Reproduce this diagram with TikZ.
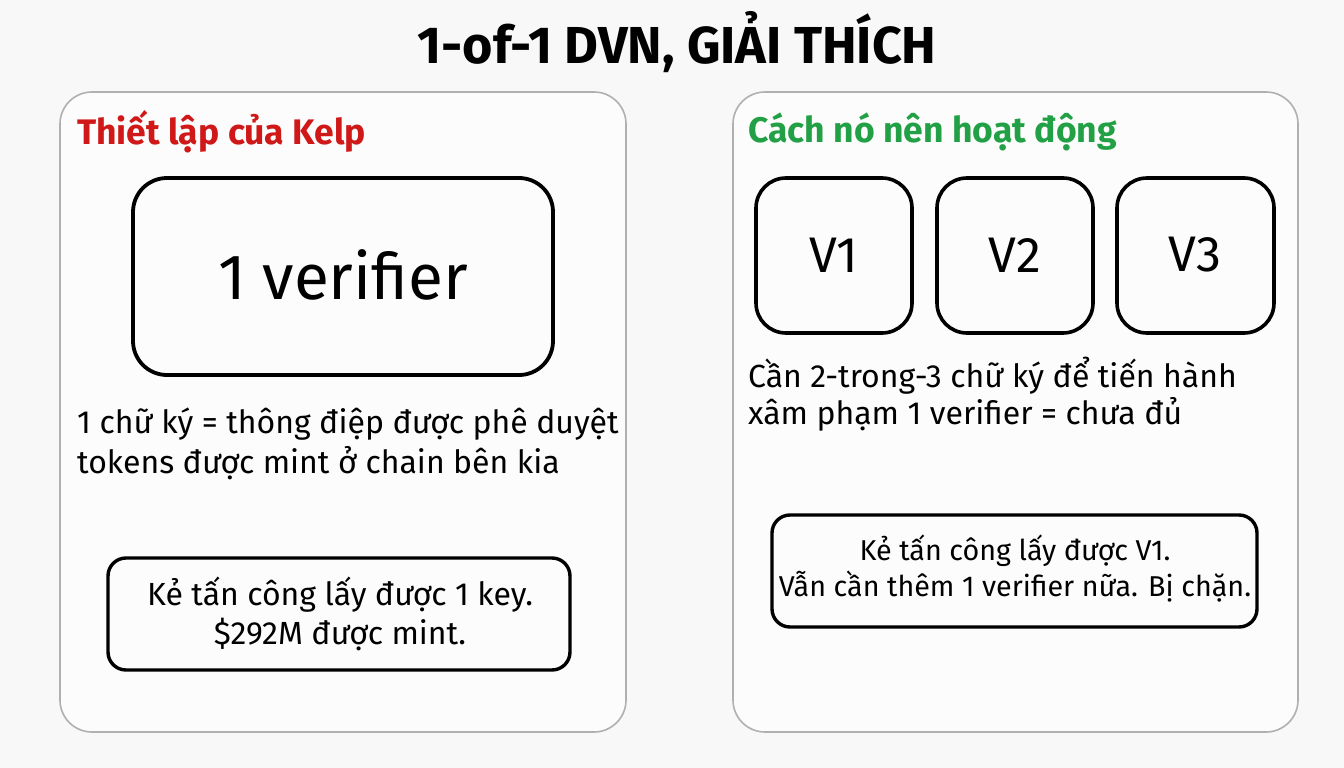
\documentclass[tikz,border=0pt]{standalone}
\usepackage{fontspec}
\setmainfont{Fira Sans}
\definecolor{bgc}{HTML}{F8F8F8}
\definecolor{redt}{HTML}{D01818}
\definecolor{greent}{HTML}{22A045}
\definecolor{panelc}{HTML}{B0B0B0}
\begin{document}
\begin{tikzpicture}[x=1pt,y=-1pt,
  panel/.style={draw=panelc,line width=1.6pt,rounded corners=32pt,fill=white!60!bgc},
  bigbox/.style={draw=black,line width=3.8pt,rounded corners=34pt},
  vbox/.style={draw=black,line width=3.6pt,rounded corners=30pt},
  msgbox/.style={draw=black,line width=3.4pt,rounded corners=18pt},
  txt/.style={anchor=west,inner sep=0pt,font=\fontsize{32}{38}\selectfont},
  hd/.style={anchor=west,inner sep=0pt,font=\fontsize{35.5}{40}\selectfont\bfseries}]
\fill[bgc] (0,0) rectangle (1344,768);
\useasboundingbox (0,0) rectangle (1344,768);
% title
\node[inner sep=0pt,font=\fontsize{52}{58}\selectfont\bfseries] (title) at (677,42) {1-of-1 DVN, GIẢI THÍCH};
% panels
\draw[panel] (60,92) rectangle (626,732);
\draw[panel] (733,92) rectangle (1298,732);
% left panel
\node[hd,text=redt] (lt) at (77,132) {Thiết lập của Kelp};
\draw[bigbox] (133,178) rectangle (553,375);
\node[inner sep=0pt,font=\fontsize{64}{70}\selectfont] (ver) at (343,275) {1 verifier};
\node[txt] (l1) at (77,424) {1 chữ ký = thông điệp được phê duyệt};
\node[txt] (l2) at (77,463) {tokens được mint ở chain bên kia};
\draw[msgbox] (108,558) rectangle (570,670);
\node[align=center,inner sep=0pt,font=\fontsize{32}{39}\selectfont] (lm) at (340,614) {Kẻ tấn công lấy được 1 key.\\\$292M được mint.};
% right panel
\node[hd,text=greent] (rt) at (748,132) {Cách nó nên hoạt động};
\draw[vbox] (756,178) rectangle (912,333);
\draw[vbox] (937,178) rectangle (1093,333);
\draw[vbox] (1117,178) rectangle (1274,333);
\node[inner sep=0pt,font=\fontsize{50}{54}\selectfont] (v1) at (834,255) {V1};
\node[inner sep=0pt,font=\fontsize{50}{54}\selectfont] (v2) at (1015,255) {V2};
\node[inner sep=0pt,font=\fontsize{50}{54}\selectfont] (v3) at (1195,255) {V3};
\node[txt] (r1) at (748,376) {Cần 2-trong-3 chữ ký để tiến hành};
\node[txt] (r2) at (748,414) {xâm phạm 1 verifier = chưa đủ};
\draw[msgbox] (772,515) rectangle (1257,627);
\node[align=center,inner sep=0pt,font=\fontsize{28.7}{36}\selectfont] (rm) at (1015,569) {Kẻ tấn công lấy được V1.\\Vẫn cần thêm 1 verifier nữa. Bị chặn.};
\end{tikzpicture}
\end{document}
